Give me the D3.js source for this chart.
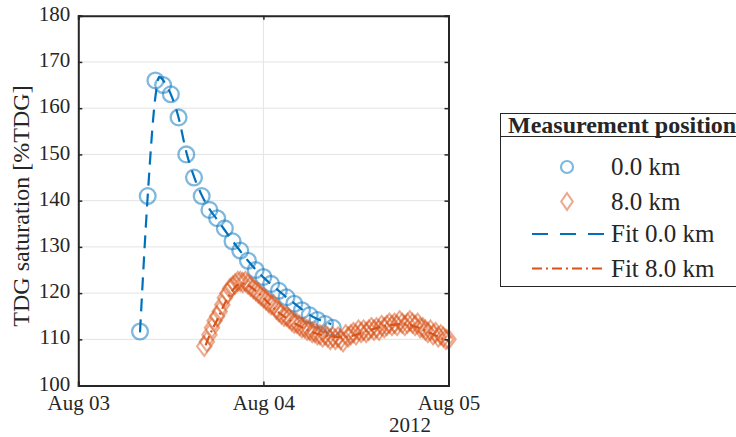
<!DOCTYPE html>
<html>
<head>
<meta charset="utf-8">
<script src="https://cdn.jsdelivr.net/npm/d3@7"></script>
<style>
  body { margin: 0; background: #fff; }
  svg { display: block; }
  text { font-family: "Liberation Serif", "Times New Roman", serif; fill: #262626; }
</style>
</head>
<body>
<svg id="chart" width="736" height="437"></svg>
<script>
// Measurements at 0.0 km (hours after 2012-08-03 00:00, %TDG)
const hours0 = [8, 9, 10, 11, 12, 13, 14, 15, 16, 17, 18, 19, 20, 21, 22, 23, 24, 25, 26, 27, 28, 29, 30, 31, 32, 33];
const tdg0 = [111.7, 141, 166, 165, 163, 158, 150, 145, 141, 138, 136.2, 134, 131.2, 129.2, 127, 125, 123.5, 122, 120.5, 119.1, 117.7, 116.3, 115.2, 114.2, 113.3, 112.5];

// Measurements at 8.0 km (20-minute records)
const hours8 = [16.33, 16.67, 17, 17.33, 17.67, 18, 18.33, 18.67, 19, 19.33, 19.67, 20, 20.33, 20.67, 21, 21.33, 21.67, 22, 22.33, 22.67, 23, 23.33, 23.67, 24,
  24.33, 24.67, 25, 25.33, 25.67, 26, 26.33, 26.67, 27, 27.33, 27.67, 28, 28.33, 28.67, 29, 29.33, 29.67, 30, 30.33, 30.67, 31, 31.33, 31.67, 32, 32.33, 32.67, 33, 33.33, 33.67, 34,
  34.33, 34.67, 35, 35.33, 35.67, 36, 36.33, 36.67, 37, 37.33, 37.67, 38, 38.33, 38.67, 39, 39.33, 39.67, 40, 40.33, 40.67, 41, 41.33, 41.67, 42, 42.33, 42.67, 43, 43.33, 43.67, 44,
  44.33, 44.67, 45, 45.33, 45.67, 46, 46.33, 46.67, 47, 47.33, 47.67, 48];
const tdg8 = [108.5, 109.5, 111, 112.5, 114, 115, 116, 117.5, 119, 120, 121, 121.5, 122, 122.5, 122.5, 122.3, 122.5, 122, 121.5, 121, 120.5, 120, 119.5, 119,
  118.5, 118, 117.5, 117.5, 116.5, 116, 115.5, 115, 115, 114.5, 114, 113.5, 113.5, 113, 112.5, 112.5, 112, 112, 111.5, 111.5, 111, 111, 110.5, 111, 110.5, 110, 110.5, 110, 110.5, 110,
  109.5, 111, 110.5, 111, 111.5, 111, 112, 111.5, 112, 111.5, 112, 112.5, 112, 112.5, 112, 113, 112.5, 113, 113.5, 113, 113.5, 113, 114, 113.5, 113, 113.5, 114, 113.5, 113, 113.5,
  112.5, 112.5, 112, 111.5, 112, 111, 111.5, 110.5, 111, 110.5, 110, 110];

// Fitted curves
const fitHours0 = [8, 9, 10, 10.5, 11, 12, 13, 14, 15, 16, 17, 18, 19, 20, 21, 22, 23, 24, 25, 26, 27, 28, 29, 30, 31, 32, 32.8];
const fit0 = [111.5, 141, 162.5, 166.8, 166, 163, 158, 150.5, 145.2, 141.2, 138.2, 135.9, 133.6, 131.3, 129.1, 127, 125.1, 123.4, 121.9, 120.5, 119.1, 117.8, 116.5, 115.3, 114.4, 113.7, 113.3];
const fitHours8 = [16.5, 17, 18, 19, 19.5, 20, 20.6, 21.3, 22, 23, 24, 25, 26, 27, 28, 29, 30, 31, 32, 33, 34, 35, 36, 37, 38, 39, 40, 41, 42, 43, 44, 45, 46, 47, 48];
const fit8 = [108.7, 110.8, 114.2, 117.8, 119.3, 120.6, 121.7, 122.1, 121.7, 120.5, 119, 117.3, 115.8, 114.6, 113.5, 112.6, 111.8, 111.2, 110.8, 110.6, 110.5, 110.6, 111, 111.6, 112.1, 112.6, 113, 113.2, 113.3, 113.1, 112.6, 111.9, 111.1, 110.3, 109.6];

// Axis ticks and labels
const yTicks = [100, 110, 120, 130, 140, 150, 160, 170, 180];
const xTickDays = ["2012-08-03", "2012-08-04", "2012-08-05"];
const yearLabel = "2012";
const yLabel = "TDG saturation [%TDG]";
const legendTitle = "Measurement position";
const legendLabels = ["0.0 km", "8.0 km", "Fit 0.0 km", "Fit 8.0 km"];

const BLUE = "#0072BD", ORANGE = "#D95319", AXIS = "#262626";
const origin = new Date(2012, 7, 3, 0, 0);
const toDate = h => new Date(origin.getTime() + h * 3600e3);
const parseDay = d3.timeParse("%Y-%m-%d");

const svg = d3.select("#chart");
const plot = { left: 78.3, right: 448.5, top: 15.7, bottom: 385.6 };

const x = d3.scaleTime()
  .domain([parseDay(xTickDays[0]), parseDay(xTickDays[xTickDays.length - 1])])
  .range([plot.left, plot.right]);
const y = d3.scaleLinear()
  .domain([yTicks[0], yTicks[yTicks.length - 1]])
  .range([plot.bottom, plot.top]);

const xTicks = xTickDays.map(parseDay);

// grid
const grid = svg.append("g");
grid.selectAll("line.h").data(yTicks.slice(1, -1)).join("line")
  .attr("x1", plot.left).attr("x2", plot.right)
  .attr("y1", d => y(d)).attr("y2", d => y(d))
  .attr("stroke", "#e3e3e3").attr("stroke-width", 1);
grid.selectAll("line.v").data(xTicks.slice(1, -1)).join("line")
  .attr("x1", d => x(d)).attr("x2", d => x(d))
  .attr("y1", plot.top).attr("y2", plot.bottom)
  .attr("stroke", "#e3e3e3").attr("stroke-width", 1);

// markers
const diamondPath = (hw, hh) => `M0,${-hh}L${hw},0L0,${hh}L${-hw},0Z`;

svg.append("g").selectAll("circle").data(hours0.map((h, i) => [h, tdg0[i]])).join("circle")
  .attr("cx", d => x(toDate(d[0]))).attr("cy", d => y(d[1])).attr("r", 7.9)
  .attr("fill", "none").attr("stroke", BLUE).attr("stroke-opacity", 0.5).attr("stroke-width", 2.3);

svg.append("g").selectAll("path").data(hours8.map((h, i) => [h, tdg8[i]])).join("path")
  .attr("transform", d => `translate(${x(toDate(d[0]))},${y(d[1])})`)
  .attr("d", diamondPath(7.2, 9.6))
  .attr("fill", "none").attr("stroke", ORANGE).attr("stroke-opacity", 0.5).attr("stroke-width", 2);

// fitted lines
const line = d3.line().x(d => x(toDate(d[0]))).y(d => y(d[1])).curve(d3.curveMonotoneX);
svg.append("path").datum(fitHours0.map((h, i) => [h, fit0[i]]))
  .attr("d", line).attr("fill", "none").attr("stroke", BLUE).attr("stroke-width", 2.2)
  .attr("stroke-dasharray", "13,8");
svg.append("path").datum(fitHours8.map((h, i) => [h, fit8[i]]))
  .attr("d", line).attr("fill", "none").attr("stroke", ORANGE).attr("stroke-width", 2.2)
  .attr("stroke-dasharray", "10,4,2,4");

// axes (ticks point inward)
const axisL = svg.append("g").attr("transform", `translate(${plot.left},0)`)
  .call(d3.axisLeft(y).tickValues(yTicks).tickSize(-4).tickPadding(8).tickFormat(d3.format("d")));
const axisR = svg.append("g").attr("transform", `translate(${plot.right},0)`)
  .call(d3.axisRight(y).tickValues(yTicks).tickSize(-4).tickFormat(""));
const axisB = svg.append("g").attr("transform", `translate(0,${plot.bottom})`)
  .call(d3.axisBottom(x).tickValues(xTicks).tickSize(-4).tickPadding(9).tickFormat(d3.timeFormat("%b %d")));
const axisT = svg.append("g").attr("transform", `translate(0,${plot.top})`)
  .call(d3.axisTop(x).tickValues(xTicks).tickSize(-4).tickFormat(""));

[axisL, axisR, axisB, axisT].forEach(g => {
  g.select(".domain").attr("stroke", AXIS).attr("stroke-width", 2);
  g.selectAll(".tick line").attr("stroke", AXIS).attr("stroke-width", 1.5);
  g.selectAll("text").attr("font-family", "Liberation Serif").attr("font-size", 21).attr("fill", AXIS);
});
axisL.selectAll(".tick text").attr("dy", "0.22em");
axisB.selectAll(".tick text").attr("dy", "0.74em");

svg.append("text").attr("x", 410).attr("y", 432).attr("text-anchor", "middle")
  .attr("font-size", 21).text(yearLabel);

svg.append("text").attr("transform", "translate(29,206) rotate(-90)")
  .attr("text-anchor", "middle").attr("font-size", 24).text(yLabel);

// legend
const lg = svg.append("g");
lg.append("rect").attr("x", 500.5).attr("y", 113.5).attr("width", 260).attr("height", 173)
  .attr("fill", "#fff").attr("stroke", AXIS).attr("stroke-width", 1);
lg.append("line").attr("x1", 500.5).attr("x2", 760).attr("y1", 136.5).attr("y2", 136.5)
  .attr("stroke", AXIS).attr("stroke-width", 1);
lg.append("text").attr("x", 508).attr("y", 133).attr("font-size", 24).attr("font-weight", "bold")
  .text(legendTitle);

const rowY = [167, 201.5, 234, 268.5];
lg.append("circle").attr("cx", 567).attr("cy", rowY[0]).attr("r", 6)
  .attr("fill", "none").attr("stroke", BLUE).attr("stroke-opacity", 0.5).attr("stroke-width", 2.2);
lg.append("path").attr("transform", `translate(567,${rowY[1]})`).attr("d", diamondPath(5.8, 8.4))
  .attr("fill", "none").attr("stroke", ORANGE).attr("stroke-opacity", 0.5).attr("stroke-width", 2);
lg.append("line").attr("x1", 532).attr("x2", 605).attr("y1", rowY[2]).attr("y2", rowY[2])
  .attr("stroke", BLUE).attr("stroke-width", 2.2).attr("stroke-dasharray", "16,12");
lg.append("line").attr("x1", 532).attr("x2", 605).attr("y1", rowY[3]).attr("y2", rowY[3])
  .attr("stroke", ORANGE).attr("stroke-width", 2.2).attr("stroke-dasharray", "10,4,2,4");

lg.selectAll("text.item").data(legendLabels).join("text").attr("class", "item")
  .attr("x", 611).attr("y", (d, i) => rowY[i] + 8).attr("font-size", 25).text(d => d);
</script>
</body>
</html>
